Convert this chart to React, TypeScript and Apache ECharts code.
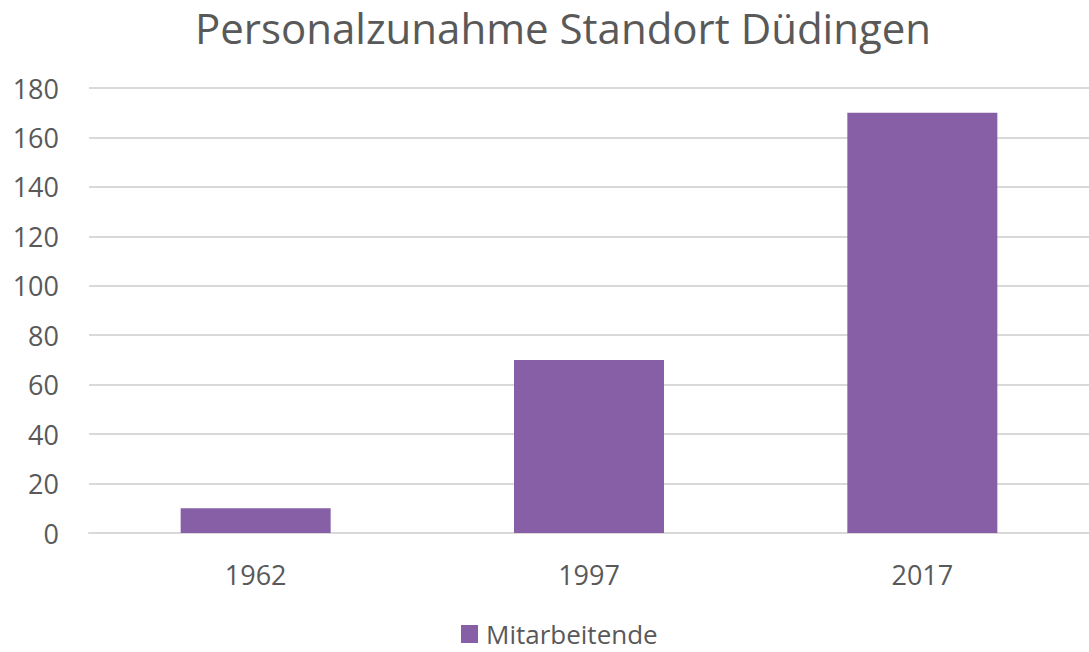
import React, { useEffect, useRef } from "react";
import * as echarts from "echarts";

const title = "Personalzunahme Standort Düdingen";
const categories = ["1962", "1997", "2017"];
const seriesName = "Mitarbeitende";
const values = [10, 70, 170];
const yMin = 0;
const yMax = 180;
const yInterval = 20;

export default function App() {
  const ref = useRef<HTMLDivElement>(null);
  useEffect(() => {
    if (!ref.current) return;
    const chart = echarts.init(ref.current, null, { renderer: "svg" });
    const font = "'Open Sans', 'Noto Sans', sans-serif";
    chart.setOption({
      animation: false,
      backgroundColor: "#ffffff",
      textStyle: { fontFamily: font },
      title: {
        text: title,
        left: 563,
        top: 7,
        padding: 0,
        textAlign: "center",
        textStyle: { fontFamily: font, fontSize: 42, lineHeight: 40, fontWeight: "normal", color: "#595959" },
      },
      grid: { left: 89, top: 88, width: 1010, height: 445, containLabel: false },
      legend: {
        data: [seriesName],
        left: 461,
        top: 621,
        padding: 0,
        itemWidth: 17,
        itemHeight: 18,
        itemGap: 6,
        textStyle: { fontFamily: font, fontSize: 26, lineHeight: 26, color: "#595959", padding: [0, 0, 0, 3] },
        icon: "rect",
      },
      xAxis: {
        type: "category",
        data: categories,
        axisLine: { show: true, lineStyle: { color: "#D9D9D9", width: 2 } },
        axisTick: { show: false },
        axisLabel: { fontFamily: font, fontSize: 27, color: "#595959", margin: 28 },
      },
      yAxis: {
        type: "value",
        min: yMin,
        max: yMax,
        interval: yInterval,
        axisLine: { show: false },
        axisTick: { show: false },
        splitLine: { lineStyle: { color: "#D9D9D9", width: 2 } },
        axisLabel: { fontFamily: font, fontSize: 27, color: "#595959", margin: 30 },
      },
      series: [
        {
          name: seriesName,
          type: "bar",
          data: values,
          barWidth: "45%",
          itemStyle: { color: "#865FA7" },
        },
      ],
    });
    return () => chart.dispose();
  }, []);
  return (
    <div
      ref={ref}
      style={{ position: "fixed", left: 0, top: 0, width: 1089, height: 652, background: "#fff" }}
    />
  );
}
